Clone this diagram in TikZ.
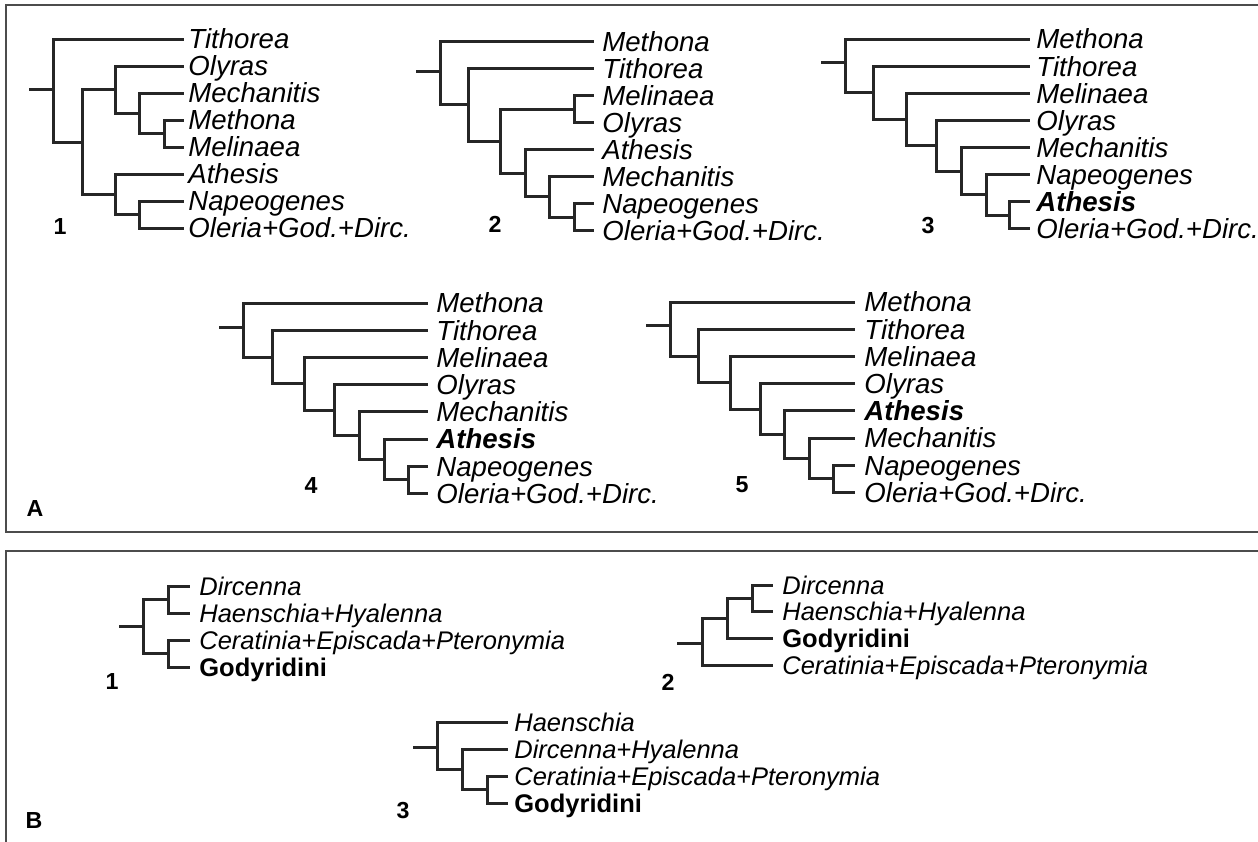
\documentclass[tikz,border=0pt]{standalone}
\usepackage{fontspec}
\setmainfont{Liberation Sans}
\usetikzlibrary{positioning}

\tikzset{
  branch/.style={line width=1.5pt, black!85, line join=miter},
  frame/.style={line width=1pt, black!70},
  taxA/.style={anchor=west, inner sep=0pt, text height=9.9pt, text depth=0pt, font=\fontsize{13.8}{16}\selectfont\itshape},
  taxB/.style={taxA, text height=9.1pt, font=\fontsize{12.75}{15}\selectfont\itshape},
  treeno/.style={inner sep=0pt, text height=8.3pt, text depth=0pt, font=\fontsize{11.6}{13}\selectfont\bfseries},
  panel/.style={treeno, text height=8.3pt, font=\fontsize{11.6}{13}\selectfont\bfseries}
}

\begin{document}
\begin{tikzpicture}[x=0.5pt, y=-0.5pt]
  \useasboundingbox (0,0) rectangle (1258,841);
  \clip (0,0) rectangle (1258,841);
  % frames
  \draw[frame] (1270,5) -| (6,532) -- (1270,532);
  \draw[frame] (1270,551) -| (6,850);
  \node[panel] (A) at (35,508) {A};
  \node[panel] (B) at (34,820) {B};

  % A, tree 1
  \foreach \name [count=\i] in {Tithorea, Olyras, Mechanitis, Methona, Melinaea, Athesis, Napeogenes, Oleria+God.+Dirc.}{
    \coordinate (a1t\i) at (184,{39+27*(\i-1)});
    \node[taxA, right=2pt of a1t\i] (a1l\i) {\name};
  }
  \coordinate (a1s) at (29,89);
  \coordinate (a1r) at (53,89);
  \coordinate (a1n2) at (82,142);
  \coordinate (a1n3) at (115,89.6);
  \coordinate (a1n4) at (139,113.25);
  \coordinate (a1n5) at (164,133.5);
  \coordinate (a1n6) at (115,194.25);
  \coordinate (a1n7) at (139,214.5);
  \draw[branch] (a1s) -- (a1r) (a1r) |- (a1t1) (a1r) |- (a1n2)
    (a1n2) |- (a1n3) (a1n2) |- (a1n6)
    (a1n3) |- (a1t2) (a1n3) |- (a1n4) (a1n4) |- (a1t3) (a1n4) |- (a1n5)
    (a1n5) |- (a1t4) (a1n5) |- (a1t5)
    (a1n6) |- (a1t6) (a1n6) |- (a1n7) (a1n7) |- (a1t7) (a1n7) |- (a1t8);
  \node[treeno] (a1no) at (60,226) {1};

  % A, tree 2
  \foreach \name [count=\i] in {Methona, Tithorea, Melinaea, Olyras, Athesis, Mechanitis, Napeogenes, Oleria+God.+Dirc.}{
    \coordinate (a2t\i) at (594,{41.5+27*(\i-1)});
    \node[taxA, right=4pt of a2t\i] (a2l\i) {\name};
  }
  \coordinate (a2s) at (416,71);
  \coordinate (a2r) at (440,71);
  \coordinate (a2n2) at (468,104.75);
  \coordinate (a2n3) at (500,141);
  \coordinate (a2m) at (574,109);
  \coordinate (a2n4) at (525,173.1);
  \coordinate (a2n5) at (549,196.75);
  \coordinate (a2n6) at (574,217);
  \draw[branch] (a2s) -- (a2r) (a2r) |- (a2t1) (a2r) |- (a2n2)
    (a2n2) |- (a2t2) (a2n2) |- (a2n3) (a2n3) |- (a2m) (a2n3) |- (a2n4)
    (a2m) |- (a2t3) (a2m) |- (a2t4)
    (a2n4) |- (a2t5) (a2n4) |- (a2n5) (a2n5) |- (a2t6) (a2n5) |- (a2n6)
    (a2n6) |- (a2t7) (a2n6) |- (a2t8);
  \node[treeno] (a2no) at (495,224) {2};

  % A, tree 3
  \foreach \name [count=\i] in {Methona, Tithorea, Melinaea, Olyras, Mechanitis, Napeogenes, \textbf{Athesis}, Oleria+God.+Dirc.}{
    \coordinate (a3t\i) at (1030,{39+27.1*(\i-1)});
    \node[taxA, right=3pt of a3t\i] (a3l\i) {\name};
  }
  \coordinate (a3s) at (821,62);
  \coordinate (a3r) at (845,62);
  \coordinate (a3n2) at (873,92.8);
  \coordinate (a3n3) at (906,119.45);
  \coordinate (a3n4) at (936,145.7);
  \coordinate (a3n5) at (961,171.1);
  \coordinate (a3n6) at (986,194.8);
  \coordinate (a3n7) at (1009,215.15);
  \draw[branch] (a3s) -- (a3r) (a3r) |- (a3t1) (a3r) |- (a3n2)
    (a3n2) |- (a3t2) (a3n2) |- (a3n3) (a3n3) |- (a3t3) (a3n3) |- (a3n4)
    (a3n4) |- (a3t4) (a3n4) |- (a3n5) (a3n5) |- (a3t5) (a3n5) |- (a3n6)
    (a3n6) |- (a3t6) (a3n6) |- (a3n7) (a3n7) |- (a3t7) (a3n7) |- (a3t8);
  \node[treeno] (a3no) at (928,225) {3};

  % A, tree 4
  \foreach \name [count=\i] in {Methona, Tithorea, Melinaea, Olyras, Mechanitis, \textbf{Athesis}, Napeogenes, Oleria+God.+Dirc.}{
    \coordinate (a4t\i) at (428,{303+27.2*(\i-1)});
    \node[taxA, right=4pt of a4t\i] (a4l\i) {\name};
  }
  \coordinate (a4s) at (219,327);
  \coordinate (a4r) at (243,327);
  \coordinate (a4n2) at (272,357);
  \coordinate (a4n3) at (304,383.75);
  \coordinate (a4n4) at (334,410.1);
  \coordinate (a4n5) at (359,435.6);
  \coordinate (a4n6) at (384,459.4);
  \coordinate (a4n7) at (408,479.8);
  \draw[branch] (a4s) -- (a4r) (a4r) |- (a4t1) (a4r) |- (a4n2)
    (a4n2) |- (a4t2) (a4n2) |- (a4n3) (a4n3) |- (a4t3) (a4n3) |- (a4n4)
    (a4n4) |- (a4t4) (a4n4) |- (a4n5) (a4n5) |- (a4t5) (a4n5) |- (a4n6)
    (a4n6) |- (a4t6) (a4n6) |- (a4n7) (a4n7) |- (a4t7) (a4n7) |- (a4t8);
  \node[treeno] (a4no) at (311,485) {4};

  % A, tree 5
  \foreach \name [count=\i] in {Methona, Tithorea, Melinaea, Olyras, \textbf{Athesis}, Mechanitis, Napeogenes, Oleria+God.+Dirc.}{
    \coordinate (a5t\i) at (855,{302+27.2*(\i-1)});
    \node[taxA, right=4.5pt of a5t\i] (a5l\i) {\name};
  }
  \coordinate (a5s) at (646,325);
  \coordinate (a5r) at (670,325);
  \coordinate (a5n2) at (698,356);
  \coordinate (a5n3) at (730,382.75);
  \coordinate (a5n4) at (760,409.1);
  \coordinate (a5n5) at (784,434.6);
  \coordinate (a5n6) at (809,458.4);
  \coordinate (a5n7) at (833,478.8);
  \draw[branch] (a5s) -- (a5r) (a5r) |- (a5t1) (a5r) |- (a5n2)
    (a5n2) |- (a5t2) (a5n2) |- (a5n3) (a5n3) |- (a5t3) (a5n3) |- (a5n4)
    (a5n4) |- (a5t4) (a5n4) |- (a5n5) (a5n5) |- (a5t5) (a5n5) |- (a5n6)
    (a5n6) |- (a5t6) (a5n6) |- (a5n7) (a5n7) |- (a5t7) (a5n7) |- (a5t8);
  \node[treeno] (a5no) at (742,484) {5};

  % B, tree 1
  \foreach \name [count=\i] in {Dircenna, Haenschia+Hyalenna, Ceratinia+Episcada+Pteronymia, \textup{\textbf{Godyridini}}}{
    \coordinate (b1t\i) at (190,{586+27*(\i-1)});
    \node[taxB, right=4.5pt of b1t\i] (b1l\i) {\name};
  }
  \coordinate (b1s) at (119,626);
  \coordinate (b1r) at (143,626);
  \coordinate (b1a) at (168,599.5);
  \coordinate (b1b) at (168,653.5);
  \draw[branch] (b1s) -- (b1r) (b1r) |- (b1a) (b1r) |- (b1b)
    (b1a) |- (b1t1) (b1a) |- (b1t2) (b1b) |- (b1t3) (b1b) |- (b1t4);
  \node[treeno] (b1no) at (112,681) {1};

  % B, tree 2
  \foreach \name [count=\i] in {Dircenna, Haenschia+Hyalenna, \textup{\textbf{Godyridini}}, Ceratinia+Episcada+Pteronymia}{
    \coordinate (b2t\i) at (773,{585+26.8*(\i-1)});
    \node[taxB, right=4.5pt of b2t\i] (b2l\i) {\name};
  }
  \coordinate (b2s) at (677,643);
  \coordinate (b2r) at (702,643);
  \coordinate (b2b) at (727,618.5);
  \coordinate (b2c) at (752,598.4);
  \draw[branch] (b2s) -- (b2r) (b2r) |- (b2b) (b2r) |- (b2t4)
    (b2b) |- (b2c) (b2b) |- (b2t3) (b2c) |- (b2t1) (b2c) |- (b2t2);
  \node[treeno] (b2no) at (668,682) {2};

  % B, tree 3
  \foreach \name [count=\i] in {Haenschia, Dircenna+Hyalenna, Ceratinia+Episcada+Pteronymia, \textup{\textbf{Godyridini}}}{
    \coordinate (b3t\i) at (508,{722+27*(\i-1)});
    \node[taxB, right=3pt of b3t\i] (b3l\i) {\name};
  }
  \coordinate (b3s) at (413,747);
  \coordinate (b3r) at (437,747);
  \coordinate (b3b) at (462,769.25);
  \coordinate (b3c) at (487,789.5);
  \draw[branch] (b3s) -- (b3r) (b3r) |- (b3t1) (b3r) |- (b3b)
    (b3b) |- (b3t2) (b3b) |- (b3c) (b3c) |- (b3t3) (b3c) |- (b3t4);
  \node[treeno] (b3no) at (403,810) {3};
\end{tikzpicture}
\end{document}
